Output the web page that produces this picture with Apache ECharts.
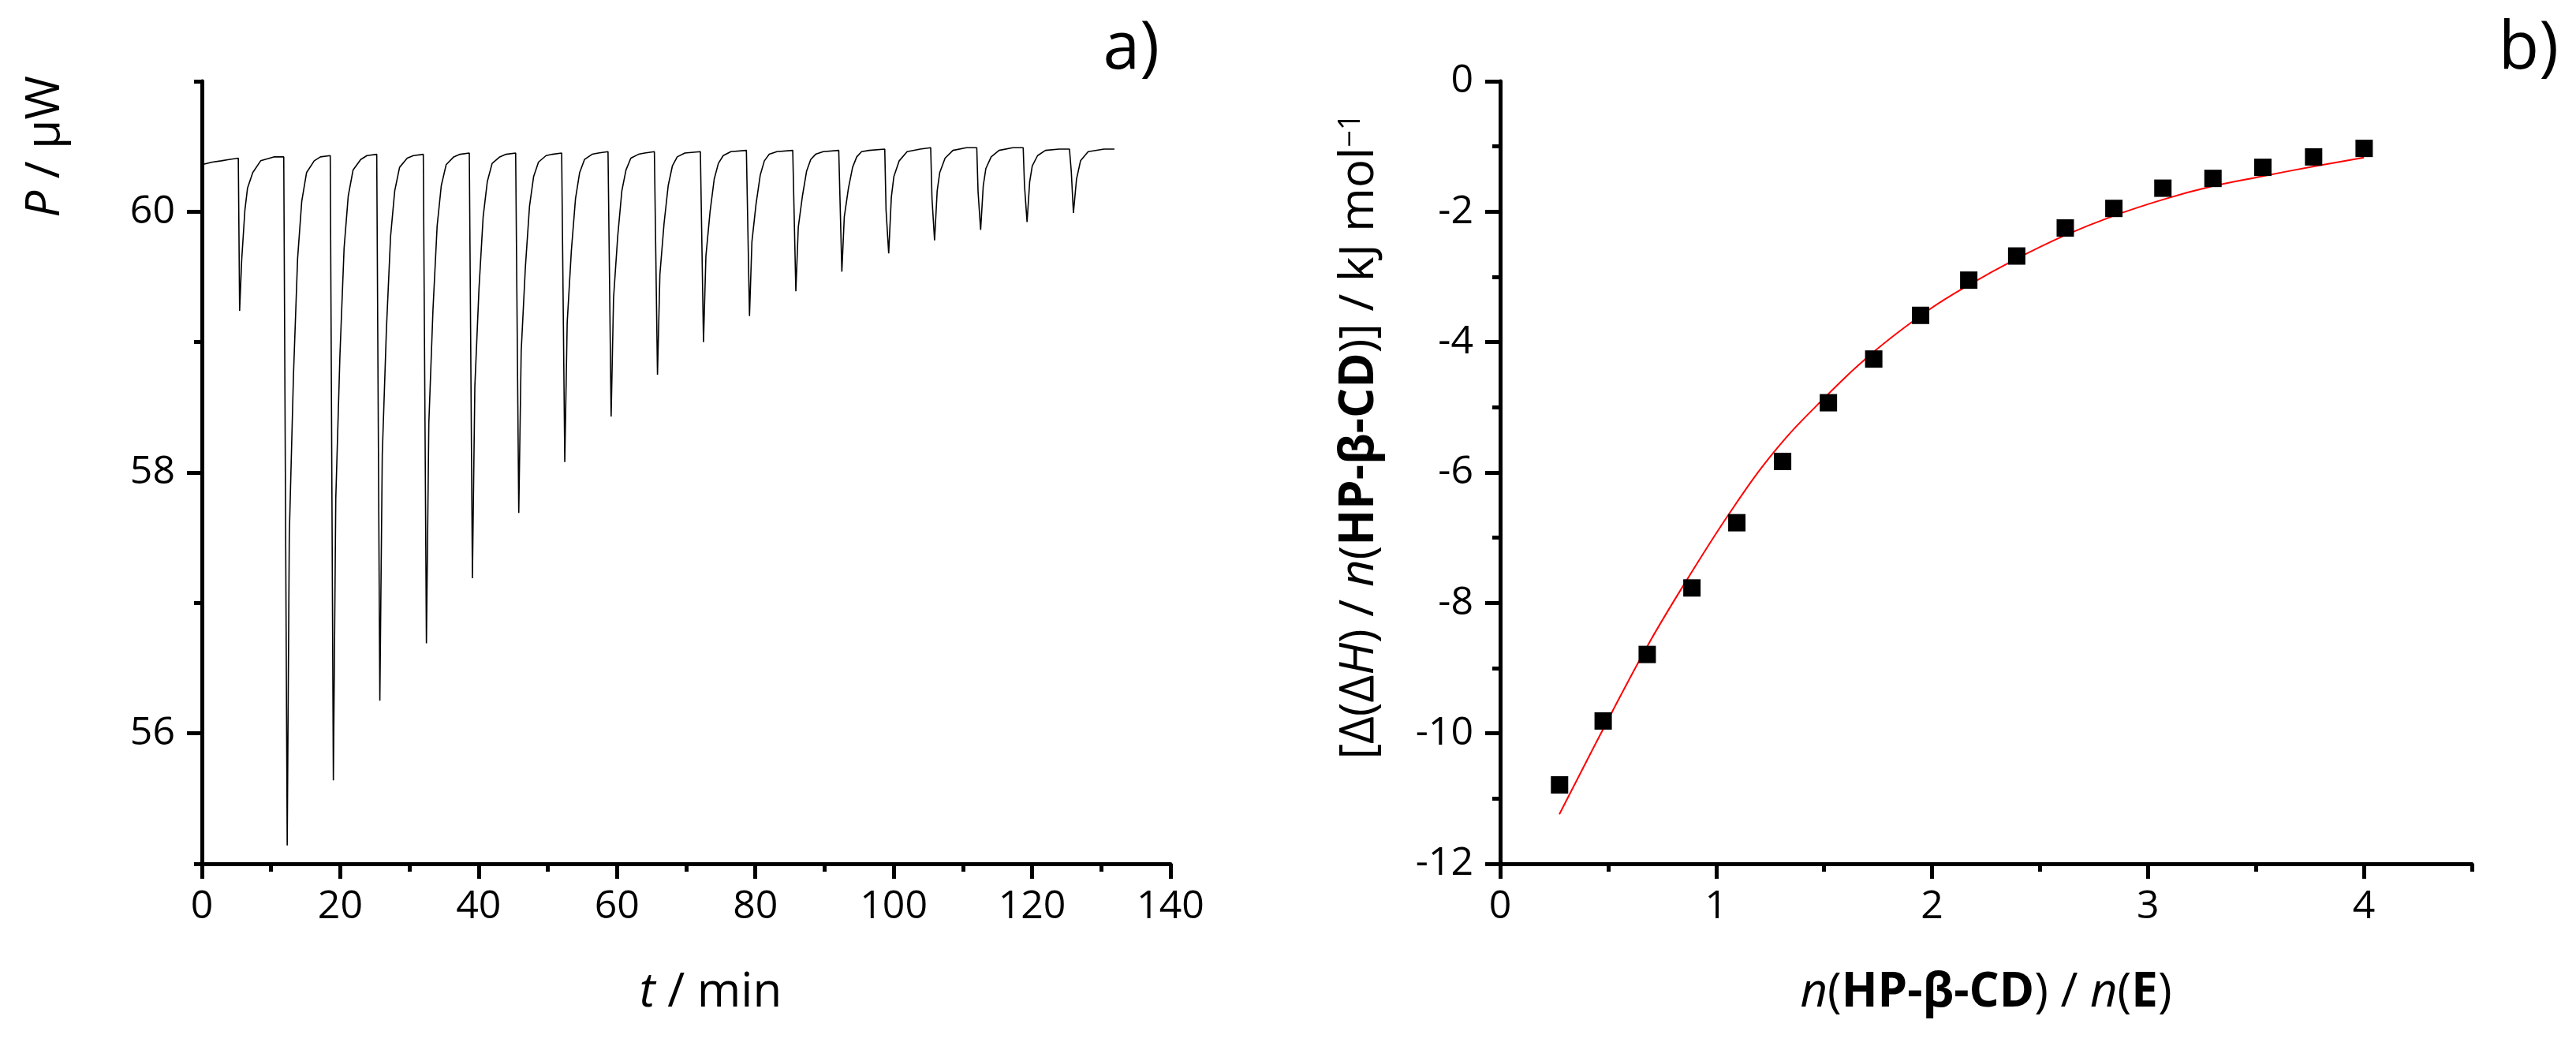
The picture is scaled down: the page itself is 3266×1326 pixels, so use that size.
<!DOCTYPE html>
<html>
<head>
<meta charset="utf-8">
<script src="https://cdn.jsdelivr.net/npm/echarts@6/dist/echarts.min.js"></script>
<style>
html, body { margin: 0; padding: 0; background: #fff; }
#chart { width: 3266px; height: 1326px; }
</style>
</head>
<body>
<div id="chart"></div>
<script>
(function(){

// panel a) : heat flow trace, [t / min, P / uW]
var traceData = [
    [0, 60.36], [1.5, 60.38], [2.8, 60.39], [3.9, 60.40], [5.26, 60.41],
    [5.45, 59.24], [5.75, 59.63], [6.21, 60.01], [6.59, 60.18], [7.35, 60.30], [8.49, 60.39], [10.39, 60.42], [11.83, 60.42],
    [12.33, 55.14], [12.63, 57.52], [13.23, 58.74], [13.83, 59.64], [14.43, 60.08], [15.13, 60.30], [16.23, 60.39], [17.13, 60.42], [18.55, 60.43],
    [19.0, 55.64], [19.35, 57.80], [19.95, 58.90], [20.55, 59.72], [21.15, 60.12], [21.85, 60.32], [22.95, 60.40], [23.85, 60.43], [25.27, 60.44],
    [25.72, 56.25], [26.07, 58.14], [26.67, 59.10], [27.27, 59.81], [27.87, 60.16], [28.57, 60.34], [29.67, 60.41], [30.57, 60.43], [32.0, 60.44],
    [32.45, 56.69], [32.8, 58.38], [33.4, 59.25], [34.0, 59.89], [34.6, 60.20], [35.3, 60.36], [36.4, 60.42], [37.3, 60.44], [38.65, 60.45],
    [39.1, 57.19], [39.45, 58.66], [40.05, 59.41], [40.65, 59.96], [41.25, 60.23], [41.95, 60.37], [43.05, 60.42], [43.95, 60.44], [45.35, 60.45],
    [45.8, 57.69], [46.15, 58.93], [46.75, 59.57], [47.35, 60.04], [47.95, 60.27], [48.65, 60.38], [49.75, 60.43], [50.65, 60.44], [52.0, 60.45],
    [52.45, 58.08], [52.8, 59.15], [53.4, 59.70], [54.0, 60.10], [54.6, 60.30], [55.3, 60.40], [56.4, 60.44], [57.3, 60.45], [58.7, 60.46],
    [59.15, 58.43], [59.5, 59.34], [60.1, 59.81], [60.7, 60.16], [61.3, 60.32], [62.0, 60.41], [63.1, 60.44], [64.0, 60.45], [65.4, 60.46],
    [65.85, 58.75], [66.2, 59.52], [66.8, 59.91], [67.4, 60.20], [68.0, 60.35], [68.7, 60.42], [69.8, 60.45], [72.05, 60.46],
    [72.5, 59.00], [72.85, 59.66], [73.45, 60.00], [74.05, 60.25], [74.65, 60.37], [75.35, 60.43], [76.45, 60.46], [78.7, 60.47],
    [79.15, 59.20], [79.5, 59.77], [80.1, 60.06], [80.7, 60.28], [81.3, 60.39], [82.0, 60.44], [83.1, 60.46], [85.4, 60.47],
    [85.85, 59.39], [86.2, 59.88], [86.8, 60.12], [87.4, 60.31], [88.0, 60.40], [88.7, 60.44], [89.8, 60.46], [92.05, 60.47],
    [92.5, 59.54], [92.85, 59.96], [93.45, 60.18], [94.05, 60.34], [94.65, 60.42], [95.35, 60.46], [96.45, 60.47], [98.7, 60.48],
    [98.89, 60.01], [99.27, 59.68], [99.65, 60.11], [100.02, 60.27], [100.79, 60.39], [101.93, 60.46], [103.83, 60.48], [105.34, 60.49],
    [105.53, 60.10], [105.9, 59.78], [106.28, 60.16], [106.65, 60.30], [107.42, 60.41], [108.56, 60.47], [110.5, 60.49], [112.0, 60.49],
    [112.19, 60.15], [112.56, 59.86], [112.94, 60.20], [113.31, 60.33], [114.08, 60.42], [115.22, 60.47], [117.2, 60.49], [118.71, 60.49],
    [118.9, 60.20], [119.27, 59.92], [119.65, 60.23], [120.02, 60.35], [120.79, 60.43], [121.93, 60.47], [123.9, 60.48], [125.4, 60.48],
    [125.66, 60.31], [125.97, 59.99], [126.42, 60.25], [127.0, 60.39], [128.1, 60.46], [130.4, 60.48], [131.9, 60.48]
];

// panel b) : integrated heats and fitted curve
var ratio = [0.275, 0.477, 0.681, 0.888, 1.096, 1.308, 1.520, 1.730, 1.947, 2.170, 2.392, 2.617, 2.842, 3.069, 3.301, 3.532, 3.767, 4.001];
var enthalpy = [-10.79, -9.81, -8.79, -7.77, -6.77, -5.83, -4.93, -4.26, -3.59, -3.05, -2.68, -2.25, -1.95, -1.64, -1.49, -1.32, -1.16, -1.03];
var fitRatio = [0.274, 0.517, 0.687, 0.864, 1.071, 1.272, 1.479, 1.73, 1.979, 2.162, 2.387, 2.611, 2.836, 3.074, 3.299, 3.524, 3.762, 4.0];
var fitEnthalpy = [-11.24, -9.68, -8.63, -7.65, -6.58, -5.67, -4.93, -4.15, -3.52, -3.14, -2.73, -2.37, -2.07, -1.81, -1.61, -1.46, -1.31, -1.17];

// major (labelled) ticks
var timeTicks = [0, 20, 40, 60, 80, 100, 120, 140];
var powerTicks = [56, 58, 60];
var ratioTicks = [0, 1, 2, 3, 4];
var enthalpyTicks = [-12, -10, -8, -6, -4, -2, 0];

var FONT = "'Open Sans', 'Noto Sans', sans-serif";

function majorAxis(grid, pos, min, max, step, ticks) {
    return {
        type: 'value', gridIndex: grid, position: pos, offset: 0,
        min: min, max: max, interval: step,
        axisLine: { show: true, onZero: false, lineStyle: { color: '#000', width: 5 } },
        axisTick: { show: true, inside: false, length: 19, customValues: ticks,
            lineStyle: { color: '#000', width: 5 } },
        axisLabel: { show: true, customValues: ticks, margin: pos == 'left' ? 34 : 30,
            color: '#000', fontSize: 50, fontFamily: FONT },
        splitLine: { show: false }
    };
}

function minorAxis(grid, pos, min, max, step) {
    return {
        type: 'value', gridIndex: grid, position: pos, offset: 0,
        min: min, max: max, interval: step,
        axisLine: { show: false, onZero: false },
        axisTick: { show: true, inside: false, length: 10, lineStyle: { color: '#000', width: 5 } },
        axisLabel: { show: false },
        splitLine: { show: false }
    };
}

function makeFit() {
    var out = [];
    for (var i = 0; i < fitRatio.length; i++) out.push([fitRatio[i], fitEnthalpy[i]]);
    return out;
}

function makePoints() {
    var out = [];
    for (var i = 0; i < ratio.length; i++) out.push([ratio[i], enthalpy[i]]);
    return out;
}

function label(x, y, text, size, align, rot, rich) {
    return {
        type: 'text', x: x, y: y, rotation: rot || 0, z: 100,
        style: {
            text: text, fill: '#000', fontSize: size, fontFamily: FONT,
            align: align, verticalAlign: 'middle', rich: rich || {}
        }
    };
}

var titleSize = 60;
var rich = {
    i: { fontStyle: 'italic', fontSize: titleSize, fontFamily: FONT, fill: '#000' },
    b: { fontWeight: 'bold', fontSize: titleSize, fontFamily: FONT, fill: '#000' },
    s: { fontSize: 38, fontFamily: FONT, fill: '#000', verticalAlign: 'top' }
};

var chart = echarts.init(document.getElementById('chart'), null, { renderer: 'canvas' });

chart.setOption({
    animation: false,
    backgroundColor: '#fff',
    grid: [
        { left: 256, top: 103, width: 1228, height: 992 },
        { left: 1902, top: 103, width: 1232, height: 992 }
    ],
    xAxis: [
        majorAxis(0, 'bottom', 0, 140, 10, timeTicks),
        minorAxis(0, 'bottom', 0, 140, 10),
        majorAxis(1, 'bottom', 0, 4.5, 0.5, ratioTicks),
        minorAxis(1, 'bottom', 0, 4.5, 0.5)
    ],
    yAxis: [
        majorAxis(0, 'left', 55, 61, 1, powerTicks),
        minorAxis(0, 'left', 55, 61, 1),
        majorAxis(1, 'left', -12, 0, 1, enthalpyTicks),
        minorAxis(1, 'left', -12, 0, 1)
    ],
    series: [
        {
            type: 'line', xAxisIndex: 0, yAxisIndex: 0,
            data: traceData, showSymbol: false, symbol: 'none',
            lineStyle: { color: '#000', width: 1.6 }
        },
        {
            type: 'line', xAxisIndex: 2, yAxisIndex: 2,
            data: makeFit(), showSymbol: false, symbol: 'none', smooth: 0.4,
            lineStyle: { color: '#ff0000', width: 2 }, z: 2
        },
        {
            type: 'scatter', xAxisIndex: 2, yAxisIndex: 2,
            data: makePoints(), symbol: 'rect', symbolSize: 22,
            itemStyle: { color: '#000', opacity: 1 }, z: 3
        }
    ],
    graphic: [
        label(1470, 63, 'a)', 84, 'right'),
        label(3244, 63, 'b)', 84, 'right'),
        label(58, 186, '{i|P} / μW', titleSize, 'center', Math.PI / 2, rich),
        label(1724, 553, '[Δ(Δ{i|H}) / {i|n}({b|HP-β-CD})] / kJ mol{s|−1}', titleSize, 'center', Math.PI / 2, rich),
        label(901, 1259, '{i|t} / min', titleSize, 'center', 0, rich),
        label(2518, 1259, '{i|n}({b|HP-β-CD}) / {i|n}({b|E})', titleSize, 'center', 0, rich)
    ]
});

})();
</script>
</body>
</html>
